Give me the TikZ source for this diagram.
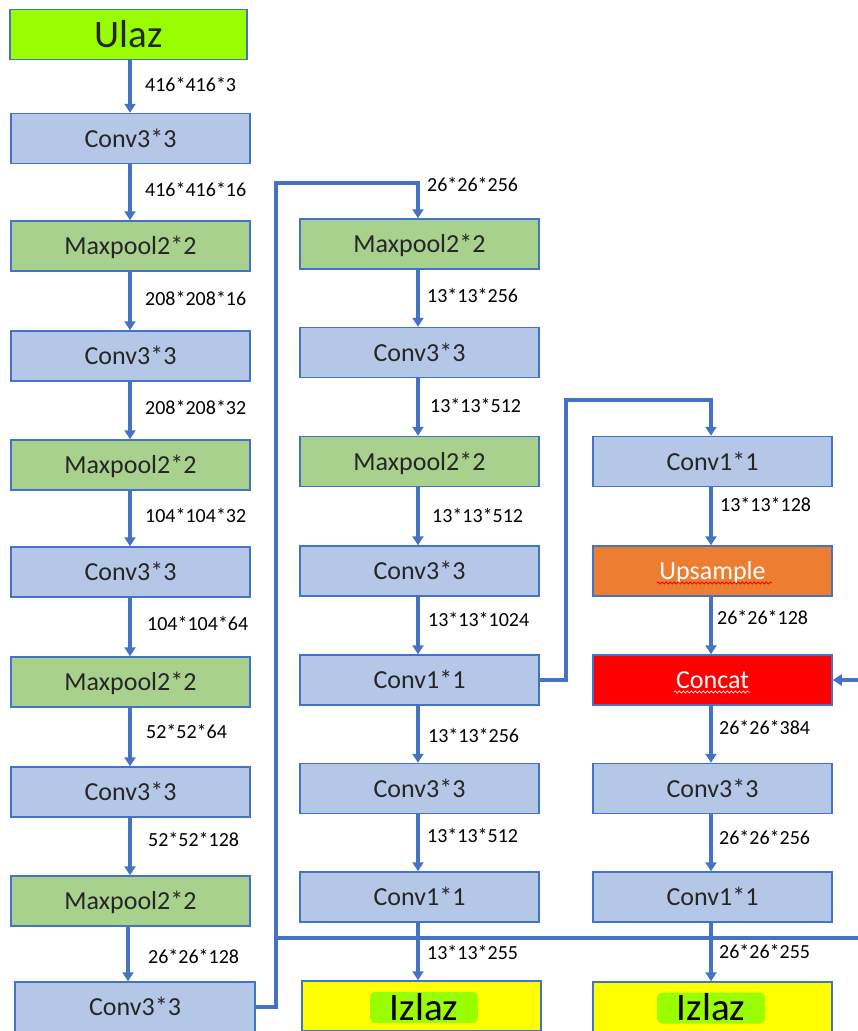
\documentclass[tikz,border=0pt]{standalone}
\usepackage{fontspec}
\setmainfont{Carlito}
\usetikzlibrary{arrows.meta,decorations.pathmorphing}
\definecolor{bord}{HTML}{4472C4}
\definecolor{arrc}{HTML}{4472C4}
\definecolor{bluef}{HTML}{B4C7E7}
\definecolor{greenf}{HTML}{A9D18E}
\definecolor{limef}{HTML}{99FF00}
\definecolor{orangef}{HTML}{ED7D31}
\definecolor{redf}{HTML}{FF0000}
\definecolor{yellowf}{HTML}{FFFF00}
\definecolor{txt}{HTML}{262626}
\definecolor{pinkw}{HTML}{FFC8C8}
\tikzset{
  basebox/.style={draw=bord, line width=1.5pt, minimum width=239pt, minimum height=50pt,
    inner sep=0pt, text=txt, font=\fontsize{26}{30}\selectfont, text height=17pt, text depth=0pt},
  bluebox/.style={basebox, fill=bluef},
  greenbox/.style={basebox, fill=greenf},
  inbox/.style={basebox, fill=limef, font=\fontsize{39}{44}\selectfont, text height=25pt},
  outbox/.style={basebox, fill=yellowf},
  hlnode/.style={fill=limef, rounded corners=5pt, minimum width=108pt, minimum height=31pt,
    inner sep=0pt, text=black, font=\fontsize{39}{44}\selectfont, text height=25pt, text depth=0pt},
  upbox/.style={basebox, fill=orangef, text=white},
  catbox/.style={basebox, fill=redf, text=white},
  lbl/.style={anchor=west, inner sep=0pt, text=black, font=\fontsize{20}{24}\selectfont,
    text height=13pt, text depth=0pt},
  arr/.style={draw=arrc, line width=3.2pt, -{Triangle[width=11pt,length=9pt]}},
  wavy/.style={line width=0.9pt, decorate, decoration={snake, segment length=4pt, amplitude=1pt}}
}
\begin{document}
\begin{tikzpicture}[x=1pt,y=-1pt]
\useasboundingbox (0,0) rectangle (857,1031);
% left column
\node[inbox] (ulaz) at (128.5,34.5) [minimum width=237pt] {Ulaz};
\node[bluebox] (a1) at (130.5,138.5) {Conv3*3};
\node[greenbox] (a2) at (130.5,246) {Maxpool2*2};
\node[bluebox] (a3) at (130.5,356) {Conv3*3};
\node[greenbox] (a4) at (130.5,465) {Maxpool2*2};
\node[bluebox] (a5) at (130.5,572) {Conv3*3};
\node[greenbox] (a6) at (130.5,682) {Maxpool2*2};
\node[bluebox] (a7) at (130.5,792) {Conv3*3};
\node[greenbox] (a8) at (130.5,901) {Maxpool2*2};
\node[bluebox] (a9) at (135,1007) [minimum width=240pt] {Conv3*3};
% middle column
\node[greenbox] (b1) at (419.5,244) {Maxpool2*2};
\node[bluebox] (b2) at (419.5,352.5) {Conv3*3};
\node[greenbox] (b3) at (419.5,461.5) {Maxpool2*2};
\node[bluebox] (b4) at (419.5,571) {Conv3*3};
\node[bluebox] (b5) at (419.5,680) {Conv1*1};
\node[bluebox] (b6) at (419.5,788.5) {Conv3*3};
\node[bluebox] (b7) at (419.5,897) {Conv1*1};
\node[outbox] (b8) at (421.5,1006) {};
\node[hlnode] (b8t) at (424,1007.5) {Izlaz};
% right column
\node[bluebox] (c1) at (712.5,461.5) {Conv1*1};
\node[upbox] (c2) at (712.5,571) {Upsample};
\node[catbox] (c3) at (712.5,680) {Concat};
\node[bluebox] (c4) at (712.5,788.5) {Conv3*3};
\node[bluebox] (c5) at (712.5,897) {Conv1*1};
\node[outbox] (c6) at (712.5,1007) {};
\node[hlnode] (c6t) at (711,1008) {Izlaz};
% spell-check underlines
\draw[wavy, draw=red] (657,583) -- (772,583);
\draw[wavy, draw=pinkw] (674,692) -- (750,692);
% arrows left column
\draw[arr] (ulaz.south -| 130,0) -- (a1.north -| 130,0);
\draw[arr] (a1.south -| 130,0) -- (a2.north -| 130,0);
\draw[arr] (a2.south -| 130,0) -- (a3.north -| 130,0);
\draw[arr] (a3.south -| 130,0) -- (a4.north -| 130,0);
\draw[arr] (a4.south -| 130,0) -- (a5.north -| 130,0);
\draw[arr] (a5.south -| 130,0) -- (a6.north -| 130,0);
\draw[arr] (a6.south -| 130,0) -- (a7.north -| 130,0);
\draw[arr] (a7.south -| 130,0) -- (a8.north -| 130,0);
\draw[arr] (a8.south -| 128,0) -- (a9.north -| 128,0);
% arrows middle column
\draw[arr] (b1.south -| 418,0) -- (b2.north -| 418,0);
\draw[arr] (b2.south -| 418,0) -- (b3.north -| 418,0);
\draw[arr] (b3.south -| 418,0) -- (b4.north -| 418,0);
\draw[arr] (b4.south -| 418,0) -- (b5.north -| 418,0);
\draw[arr] (b5.south -| 418,0) -- (b6.north -| 418,0);
\draw[arr] (b6.south -| 418,0) -- (b7.north -| 418,0);
\draw[arr] (b7.south -| 418,0) -- (b8.north -| 418,0);
% arrows right column
\draw[arr] (c1.south -| 711,0) -- (c2.north -| 711,0);
\draw[arr] (c2.south -| 711,0) -- (c3.north -| 711,0);
\draw[arr] (c3.south -| 711,0) -- (c4.north -| 711,0);
\draw[arr] (c4.south -| 711,0) -- (c5.north -| 711,0);
\draw[arr] (c5.south -| 711,0) -- (c6.north -| 711,0);
% cross connectors
\draw[arr] (a9.east) -- (276,1007) -- (276,183) -- (418,183) -- (b1.north -| 418,0);
\draw[arr] (a9.east) -- (276,1007) -- (276,938) -- (880,938) -- (880,680) -- (c3.east);
\draw[arr] (b5.east) -- (566,680) -- (566,400) -- (711,400) -- (c1.north -| 711,0);
% labels left
\node[lbl] (la1) at (145,85) {416*416*3};
\node[lbl] (la2) at (145,190) {416*416*16};
\node[lbl] (la3) at (145,299) {208*208*16};
\node[lbl] (la4) at (145,408) {208*208*32};
\node[lbl] (la5) at (145,516) {104*104*32};
\node[lbl] (la6) at (147,624) {104*104*64};
\node[lbl] (la7) at (146,732) {52*52*64};
\node[lbl] (la8) at (148,840) {52*52*128};
\node[lbl] (la9) at (148,957) {26*26*128};
% labels middle
\node[lbl] (lb1) at (427,185) {26*26*256};
\node[lbl] (lb2) at (427,296) {13*13*256};
\node[lbl] (lb3) at (430,406) {13*13*512};
\node[lbl] (lb4) at (432,516) {13*13*512};
\node[lbl] (lb5) at (428,620) {13*13*1024};
\node[lbl] (lb6) at (428,736) {13*13*256};
\node[lbl] (lb7) at (427,836) {13*13*512};
\node[lbl] (lb8) at (427,953) {13*13*255};
% labels right
\node[lbl] (lc1) at (720,505) {13*13*128};
\node[lbl] (lc2) at (717,618) {26*26*128};
\node[lbl] (lc3) at (719,728) {26*26*384};
\node[lbl] (lc4) at (719,838) {26*26*256};
\node[lbl] (lc5) at (719,952) {26*26*255};
\end{tikzpicture}
\end{document}
